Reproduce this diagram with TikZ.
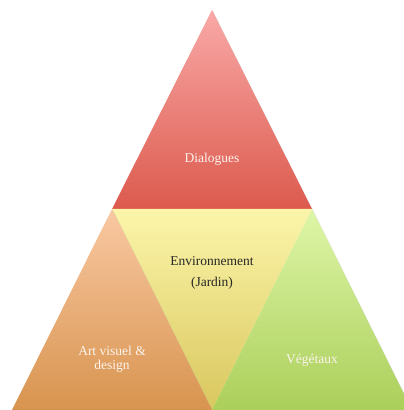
\documentclass[tikz,border=0pt]{standalone}
\usepackage{fontspec}
\setmainfont{Liberation Serif}
\usetikzlibrary{shadows}
\definecolor{redtop}{HTML}{F9A9A7}
\definecolor{redbot}{HTML}{DC5A4D}
\definecolor{yeltop}{HTML}{FCF5AA}
\definecolor{yelbot}{HTML}{D9C75E}
\definecolor{orgtop}{HTML}{F9C8A2}
\definecolor{orgbot}{HTML}{D8944F}
\definecolor{grntop}{HTML}{DEF6A8}
\definecolor{grnbot}{HTML}{ABCF5A}
\definecolor{lighttext}{HTML}{FBF3EC}
\tikzset{
  x=1pt, y=1pt,
  tri/.style={draw=none},
  shadowed/.style={drop shadow={shadow xshift=0.8pt, shadow yshift=-0.8pt, opacity=0.25}},
  lbl/.style={font=\fontsize{13.5}{14}\selectfont, text=lighttext, align=center},
  dlbl/.style={font=\fontsize{13.5}{21}\selectfont, text=black!85, align=center}
}
\begin{document}
\begin{tikzpicture}
\useasboundingbox (0,0) rectangle (404,410);
\clip (0,0) rectangle (404,410);
% top triangle
\shade[tri, shadowed, top color=redtop, bottom color=redbot] (212,400) -- (312,201) -- (112,201) -- cycle;
% yellow inverted triangle
\shade[tri, top color=yeltop, bottom color=yelbot] (112,201) -- (312,201) -- (212,0) -- cycle;
% orange bottom-left
\shade[tri, shadowed, top color=orgtop, bottom color=orgbot] (112,201) -- (212,0) -- (12,0) -- cycle;
% green bottom-right
\shade[tri, shadowed, top color=grntop, bottom color=grnbot] (312,201) -- (412,0) -- (212,0) -- cycle;
\node[lbl] (dia) at (212,251) {Dialogues};
\node[dlbl] (env) at (212,137) {Environnement\\(Jardin)};
\node[lbl] (art) at (112,51) {Art visuel \&\\design};
\node[lbl] (veg) at (312,50) {Végétaux};
\end{tikzpicture}
\end{document}
